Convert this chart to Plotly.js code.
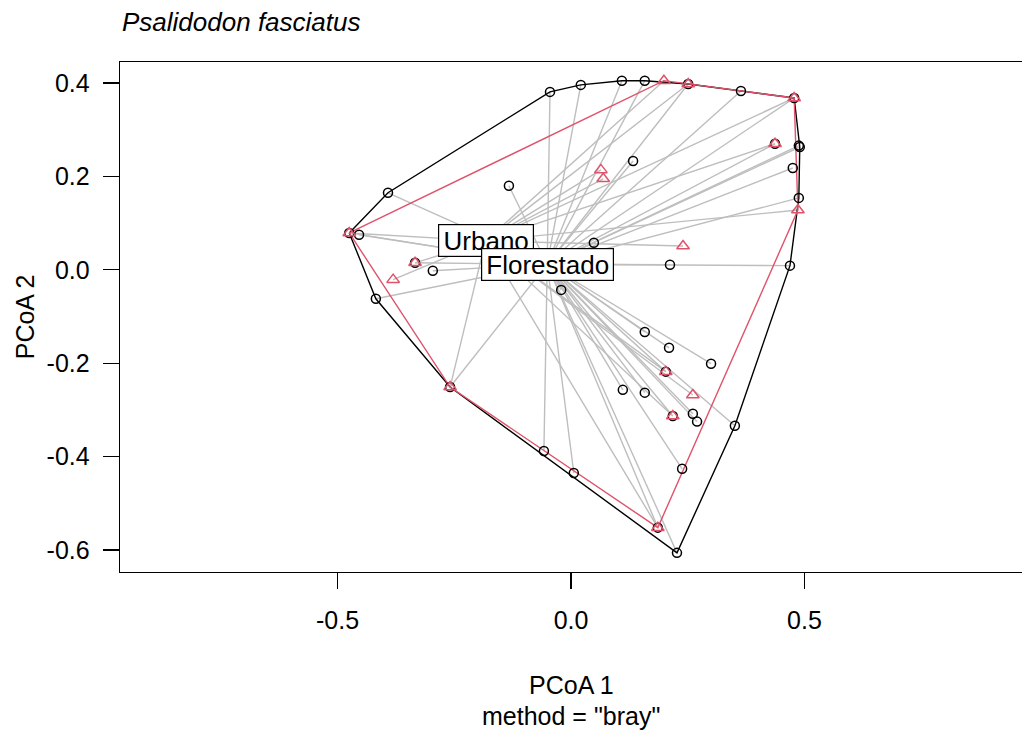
<!DOCTYPE html>
<html><head><meta charset="utf-8">
<script src="https://cdn.plot.ly/plotly-3.0.1.min.js"></script>
<style>html,body{margin:0;padding:0;background:#fff;overflow:hidden}</style>
</head><body><div id="chart" style="width:1022px;height:733px"></div>
<script>
// PCoA site scores, group "Florestado" (black circles)
const florestadoX = [-0.475,-0.454,-0.392,-0.045,0.021,0.109,0.158,0.251,0.364,0.478,0.437,0.488,0.490,0.475,0.488,0.469,0.212,0.049,0.133,-0.133,-0.296,-0.334,-0.418,-0.021,-0.259,0.158,0.210,0.300,0.203,0.111,0.158,0.218,0.261,0.270,0.351,-0.058,0.006,0.238,0.186,0.227];
const florestadoY = [0.079,0.075,0.165,0.381,0.396,0.405,0.405,0.398,0.383,0.368,0.270,0.266,0.263,0.218,0.154,0.009,0.011,0.058,0.233,0.180,-0.002,0.015,-0.062,-0.043,-0.251,-0.133,-0.167,-0.201,-0.218,-0.257,-0.263,-0.313,-0.308,-0.325,-0.334,-0.388,-0.435,-0.426,-0.552,-0.606];
// PCoA site scores, group "Urbano" (red triangles)
const urbanoX = [-0.475,0.199,0.251,0.478,0.437,0.064,0.069,0.240,0.486,-0.334,-0.381,-0.259,0.203,0.261,0.218,0.186];
const urbanoY = [0.079,0.405,0.398,0.368,0.270,0.214,0.195,0.051,0.128,0.015,-0.021,-0.251,-0.218,-0.268,-0.313,-0.552];
// group centroids
const centroidNames = ['Urbano','Florestado'];
const centroidX = [-0.183,-0.051];
const centroidY = [0.062,0.012];
// axes
const xTickVals = [-0.5,0,0.5];
const xTickText = ['-0.5','0.0','0.5'];
const yTickVals = [-0.6,-0.4,-0.2,0,0.2,0.4];
const yTickText = ['-0.6','-0.4','-0.2','0.0','0.2','0.4'];

const FONT = 'Liberation Sans, Arial, Helvetica, sans-serif';
const RED = '#DF536B';
const labelBoxWidth = {Urbano:94, Florestado:131};

function hull(xs, ys){
  const pts = xs.map((x,i)=>[x,ys[i]]).sort((a,b)=>a[0]-b[0]||a[1]-b[1]);
  const cross=(o,a,b)=>(a[0]-o[0])*(b[1]-o[1])-(a[1]-o[1])*(b[0]-o[0]);
  const lower=[],upper=[];
  for(const p of pts){while(lower.length>=2&&cross(lower[lower.length-2],lower[lower.length-1],p)<=0)lower.pop();lower.push(p);}
  for(let i=pts.length-1;i>=0;i--){const p=pts[i];while(upper.length>=2&&cross(upper[upper.length-2],upper[upper.length-1],p)<=0)upper.pop();upper.push(p);}
  upper.pop();lower.pop();
  const h=lower.concat(upper); h.push(h[0]);
  return {x:h.map(p=>p[0]), y:h.map(p=>p[1])};
}
function spokes(xs, ys, cx, cy){
  const sx=[],sy=[];
  xs.forEach((x,i)=>{sx.push(x,cx,null);sy.push(ys[i],cy,null);});
  return {x:sx,y:sy};
}
const fi = centroidNames.indexOf('Florestado'), ui = centroidNames.indexOf('Urbano');
const sF = spokes(florestadoX, florestadoY, centroidX[fi], centroidY[fi]);
const sU = spokes(urbanoX, urbanoY, centroidX[ui], centroidY[ui]);
const hF = hull(florestadoX, florestadoY);
const hU = hull(urbanoX, urbanoY);

const traces = [
  {x:sF.x,y:sF.y,mode:'lines',line:{color:'#BEBEBE',width:1.4},hoverinfo:'skip'},
  {x:sU.x,y:sU.y,mode:'lines',line:{color:'#BEBEBE',width:1.4},hoverinfo:'skip'},
  {x:hF.x,y:hF.y,mode:'lines',line:{color:'#000',width:1.4},hoverinfo:'skip'},
  {x:hU.x,y:hU.y,mode:'lines',line:{color:RED,width:1.4},hoverinfo:'skip'},
  {x:florestadoX,y:florestadoY,mode:'markers',marker:{symbol:'circle-open',size:9,color:'#000',line:{width:1.5,color:'#000'}}},
  {x:urbanoX,y:urbanoY,mode:'markers',marker:{symbol:'triangle-up-open',size:11,color:RED,line:{width:1.5,color:RED}}}
];

const annotations = centroidNames.map((n,i)=>({
  x:centroidX[i],y:centroidY[i],xref:'x',yref:'y',text:n,showarrow:false,
  font:{family:FONT,size:26,color:'#000'},bgcolor:'#fff',bordercolor:'#000',borderwidth:1.2,borderpad:0,
  width:labelBoxWidth[n],height:31,align:'center',valign:'middle',
  xanchor:'center',yanchor:'middle'
}));
annotations.push(
  {xref:'paper',yref:'paper',x:0,y:1.078,xanchor:'left',yanchor:'middle',showarrow:false,text:'<i>Psalidodon fasciatus</i>',font:{family:FONT,size:26,color:'#000'}},
  {xref:'paper',yref:'paper',x:-0.105,y:0.5,xanchor:'center',yanchor:'middle',textangle:-90,showarrow:false,text:'PCoA 2',font:{family:FONT,size:25,color:'#000'}},
  {xref:'paper',yref:'paper',x:0.5,y:-0.222,xanchor:'center',yanchor:'middle',showarrow:false,text:'PCoA 1',font:{family:FONT,size:25,color:'#000'}},
  {xref:'paper',yref:'paper',x:0.5,y:-0.282,xanchor:'center',yanchor:'middle',showarrow:false,text:'method = "bray"',font:{family:FONT,size:25,color:'#000'}}
);

const layout = {
  width:1022,height:733,margin:{l:120,r:0,t:62,b:161},
  paper_bgcolor:'#fff',plot_bgcolor:'#fff',showlegend:false,
  font:{family:FONT,size:25,color:'#000'},
  xaxis:{range:[-0.966,0.966],tickvals:xTickVals,ticktext:xTickText,showgrid:false,zeroline:false,
    showline:true,mirror:true,linecolor:'#000',linewidth:1.3,ticks:'outside',ticklen:16,tickwidth:1.2,tickcolor:'#000',
    ticklabelstandoff:10,tickfont:{family:FONT,size:25,color:'#000'}},
  yaxis:{range:[-0.647,0.445],tickvals:yTickVals,ticktext:yTickText,showgrid:false,zeroline:false,
    showline:true,linecolor:'#000',linewidth:1.3,ticks:'outside',ticklen:16,tickwidth:1.2,tickcolor:'#000',
    ticklabelstandoff:8,tickfont:{family:FONT,size:25,color:'#000'}},
  annotations:annotations
};
Plotly.newPlot('chart',traces,layout,{displayModeBar:false,staticPlot:true});
</script></body></html>
